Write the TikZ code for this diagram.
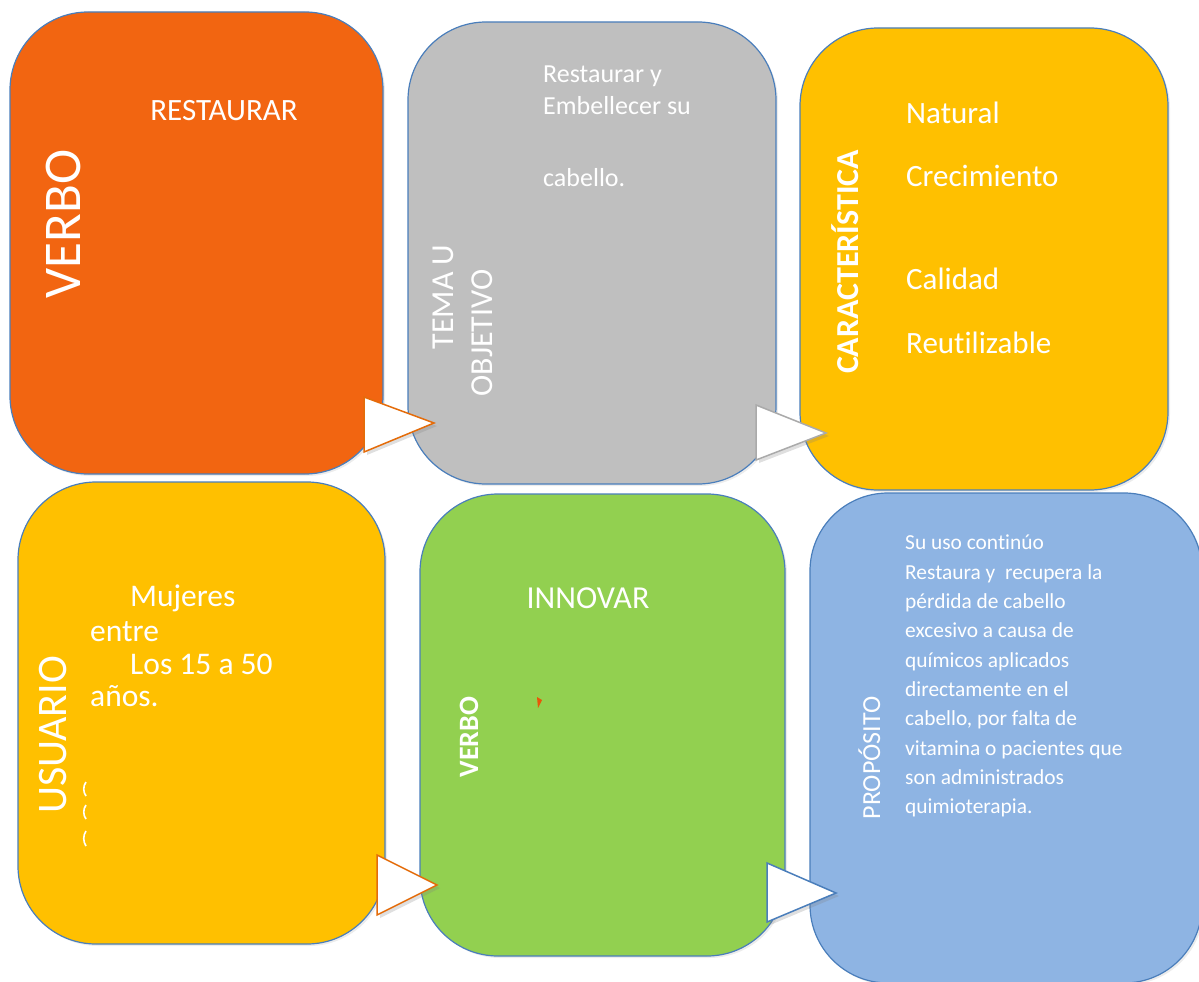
\documentclass[tikz,border=0pt]{standalone}
\usepackage{fontspec}
\setmainfont{Carlito}[Ligatures=NoCommon]
\usepackage{tikz}
\usetikzlibrary{shadows}

\definecolor{cOrange}{RGB}{242,101,17}
\definecolor{cGray}{RGB}{191,191,191}
\definecolor{cYellow}{RGB}{255,192,0}
\definecolor{cGreen}{RGB}{146,208,80}
\definecolor{cBlue}{RGB}{142,180,227}
\definecolor{cEdge}{RGB}{74,126,187}
\definecolor{cTipOrange}{RGB}{228,108,10}
\definecolor{cTipGray}{RGB}{170,170,170}

\newcommand{\fsz}[1]{\fontsize{#1}{#1}\selectfont}

\tikzset{
  card/.style={draw=cEdge, line width=1.2pt, rounded corners=78pt, inner sep=0pt,
    minimum height=462pt,
    drop shadow={opacity=0.15, shadow xshift=2pt, shadow yshift=-2pt}},
  txt/.style={text=white, inner sep=0pt},
  tip/.style={fill=white, line width=1.5pt, line join=miter,
    drop shadow={opacity=0.25, shadow xshift=3pt, shadow yshift=-3pt}},
  nick/.style={white, line width=1.6pt}
}

\begin{document}
\begin{tikzpicture}[x=1pt,y=-1pt]
\useasboundingbox (0,0) rectangle (1199,982);

% the six cards
\node[card, fill=cOrange, minimum width=373pt] (verbo) at (196.5,243) {};
\node[card, fill=cGray, minimum width=368pt] (tema) at (592,253) {};
\node[card, fill=cYellow, minimum width=368pt] (carac) at (984,259) {};
\node[card, fill=cYellow, minimum width=367pt] (usuario) at (201.5,713) {};
\node[card, fill=cGreen, minimum width=365pt] (innovar) at (602.5,725) {};
\node[card, fill=cBlue, minimum width=392pt, minimum height=490pt] (proposito) at (1006,738) {};

% white pointers between the cards
\draw[tip, draw=cTipOrange] (364,397) -- (434,423) -- (364,452) -- cycle;
\draw[tip, draw=cTipGray] (756,405) -- (826,433) -- (756,460) -- cycle;
\draw[tip, draw=cTipOrange] (377,855) -- (437,885) -- (377,915) -- cycle;
\draw[tip, draw=cEdge] (767,863) -- (836,893) -- (767,922) -- cycle;

% card 1
\node[txt, rotate=90, anchor=base] (t1a) at (80,224) {\fsz{53}VERBO};
\node[txt, anchor=base] (t1b) at (224,120) {\fsz{31}RESTAURAR};

% card 2
\node[txt, anchor=base west] (t2a) at (543,82) {\fsz{26}Restaurar y};
\node[txt, anchor=base west] (t2b) at (543,114) {\fsz{26}Embellecer su};
\node[txt, anchor=base west] (t2c) at (543,186) {\fsz{26}cabello.};
\node[txt, rotate=90, anchor=base] (t2d) at (453,297) {\fsz{32}TEMA U};
\node[txt, rotate=90, anchor=base] (t2e) at (492,333) {\fsz{32}OBJETIVO};

% card 3
\node[txt, rotate=90, anchor=base] (t3a) at (858,262) {\fsz{32}\bfseries CARACTERÍSTICA};
\node[txt, anchor=base west] (t3b) at (906,123) {\fsz{31}Natural};
\node[txt, anchor=base west] (t3c) at (906,186) {\fsz{31}Crecimiento};
\node[txt, anchor=base west] (t3d) at (906,289) {\fsz{31}Calidad};
\node[txt, anchor=base west] (t3e) at (906,353) {\fsz{31}Reutilizable};

% card 4
\node[txt, rotate=90, anchor=base] (t4a) at (66,735) {\fsz{42}USUARIO};
\node[txt, anchor=base west] (t4b) at (130,606) {\fsz{31.5}Mujeres};
\node[txt, anchor=base west] (t4c) at (90,641) {\fsz{31.5}entre};
\node[txt, anchor=base west] (t4d) at (130,674) {\fsz{31.5}Los 15 a 50};
\node[txt, anchor=base west] (t4e) at (90,706) {\fsz{31.5}años.};
\draw[nick] (86,782) .. controls (83,786) and (83,792) .. (86,796);
\draw[nick] (86,805) .. controls (83,809) and (83,815) .. (86,819);
\draw[nick] (86,831) .. controls (83,835) and (83,842) .. (86,846);

% card 5
\node[txt, anchor=base] (t5a) at (588,608) {\fsz{32}INNOVAR};
\node[txt, rotate=90, anchor=base] (t5b) at (478,737) {\fsz{28}\bfseries VERBO};
\fill[cTipOrange!80!red] (537,697) -- (542,700) -- (538,708) -- cycle;

% card 6
\node[txt, rotate=90, anchor=base] (t6a) at (880,758) {\fsz{26}PROPÓSITO};
\node[txt, anchor=north west, align=left, font=\fontsize{21.4}{29.3}\selectfont] (t6b) at (905,535)
  {Su uso continúo\\
   Restaura y\ \ recupera la\\
   pérdida de cabello\\
   excesivo a causa de\\
   químicos aplicados\\
   directamente en el\\
   cabello, por falta de\\
   vitamina o pacientes que\\
   son administrados\\
   quimioterapia.};
\end{tikzpicture}
\end{document}
